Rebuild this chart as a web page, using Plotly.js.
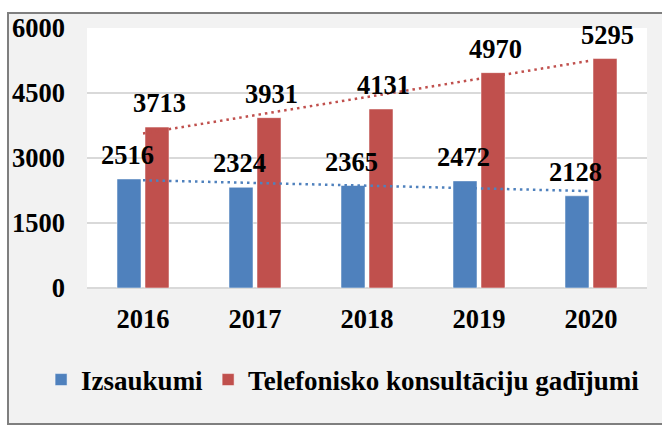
<!DOCTYPE html>
<html>
<head>
<meta charset="utf-8">
<script src="https://cdn.plot.ly/plotly-3.0.1.min.js"></script>
<style>
  html, body { margin: 0; padding: 0; background: #ffffff; }
  #frame { position: absolute; left: 7px; top: 12px; width: 680px; height: 409px;
           border: 2px solid #7f7f7f; background: #f2f2f2; }
  #chart { position: absolute; left: 0; top: 0; width: 662px; height: 425px; }
</style>
</head>
<body>
<div id="frame"></div>
<div id="chart"></div>
<script>
const years = ['2016', '2017', '2018', '2019', '2020'];
const izsaukumi = [2516, 2324, 2365, 2472, 2128];
const telefonisko = [3713, 3931, 4131, 4970, 5295];
const seriesNames = ['Izsaukumi', 'Telefonisko konsultāciju gadījumi'];
const yTicks = [0, 1500, 3000, 4500, 6000];

const blue = '#4f81bd';
const red = '#c0504d';
const font = { family: '"Liberation Serif", "Times New Roman", serif', size: 26.5, color: '#000000', weight: 700 };

function linearTrend(vals) {
  const n = vals.length;
  const xs = vals.map((_, i) => i);
  const mx = xs.reduce((a, b) => a + b, 0) / n;
  const my = vals.reduce((a, b) => a + b, 0) / n;
  let num = 0, den = 0;
  for (let i = 0; i < n; i++) { num += (xs[i] - mx) * (vals[i] - my); den += (xs[i] - mx) ** 2; }
  const s = num / den;
  return xs.map(x => my + s * (x - mx));
}

const traces = [
  { type: 'bar', x: years, y: izsaukumi, name: seriesNames[0], marker: { color: blue, line: { color: '#ffffff', width: 0.5 } } },
  { type: 'bar', x: years, y: telefonisko, name: seriesNames[1], marker: { color: red, line: { color: '#ffffff', width: 0.5 } } },
  { type: 'scatter', mode: 'lines', x: years, y: linearTrend(izsaukumi), showlegend: false, hoverinfo: 'skip',
    line: { color: blue, width: 2.5, dash: '2.5px,4px' } },
  { type: 'scatter', mode: 'lines', x: years, y: linearTrend(telefonisko), showlegend: false, hoverinfo: 'skip',
    line: { color: red, width: 2.5, dash: '2.5px,4px' } }
];

const annotations = [];
years.forEach((yr, i) => {
  annotations.push({ x: i, y: izsaukumi[i], text: String(izsaukumi[i]), showarrow: false,
    xshift: -16, yshift: 24, yanchor: 'middle', font: font });
  annotations.push({ x: i, y: telefonisko[i], text: String(telefonisko[i]), showarrow: false,
    xshift: 16, yshift: 24, yanchor: 'middle', font: font });
});

const layout = {
  width: 662, height: 425,
  margin: { l: 87, r: 15, t: 28, b: 137, autoexpand: false },
  paper_bgcolor: 'rgba(0,0,0,0)',
  plot_bgcolor: '#ffffff',
  barmode: 'group',
  bargap: 0.5,
  bargroupgap: 0.143,
  font: font,
  showlegend: true,
  legend: { orientation: 'h', xref: 'paper', yref: 'paper', x: -0.082, xanchor: 'left',
    y: -0.354, yanchor: 'middle',
    font: Object.assign({}, font, { size: 27 }), bgcolor: 'rgba(0,0,0,0)', itemwidth: 30, traceorder: 'normal' },
  xaxis: { type: 'category', range: [-0.5, 4.5], showgrid: false, zeroline: false, showline: false, ticks: '',
    tickfont: font, ticklabelstandoff: 12 },
  yaxis: { range: [0, 6000], tickvals: yTicks, ticktext: yTicks.map(String), showgrid: true,
    gridcolor: '#d9d9d9', gridwidth: 1.5, zeroline: true, zerolinecolor: '#d9d9d9', zerolinewidth: 1.5,
    showline: false, ticks: '', tickfont: font, ticklabelstandoff: 21 },
  annotations: annotations
};

Plotly.newPlot('chart', traces, layout, { displayModeBar: false, staticPlot: true });
</script>
</body>
</html>
